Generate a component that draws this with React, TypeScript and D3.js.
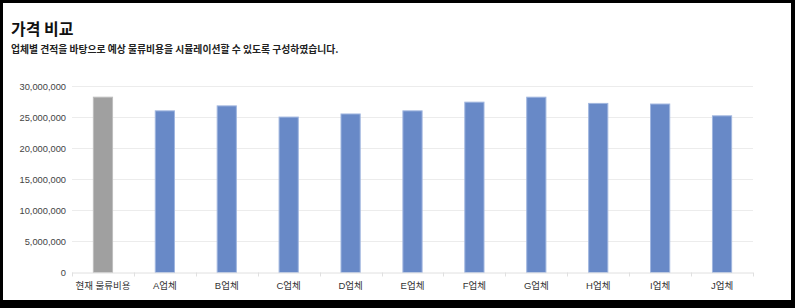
import React from "react";
import * as d3 from "d3";

const categories = ["현재 물류비용", "A업체", "B업체", "C업체", "D업체", "E업체", "F업체", "G업체", "H업체", "I업체", "J업체"];
const values = [28200000, 26000000, 26800000, 25000000, 25500000, 26000000, 27400000, 28200000, 27200000, 27100000, 25200000];
const yTicks = [0, 5000000, 10000000, 15000000, 20000000, 25000000, 30000000];
const title = "가격 비교";
const subtitle = "업체별 견적을 바탕으로 예상 물류비용을 시뮬레이션할 수 있도록 구성하였습니다.";

const W = 795;
const H = 308;
const left = 72;
const right = 753;
const top = 86;
const bottom = 272.5;

export default function App() {
  const x = d3.scaleBand<string>().domain(categories).range([left, right]).paddingInner(0.69).paddingOuter(0.345);
  const y = d3.scaleLinear().domain([0, 30000000]).range([bottom, top]);
  const fmt = d3.format(",");
  const step = (right - left) / categories.length;
  const font = "'Liberation Sans', Arial, 'Noto Sans CJK KR', sans-serif";
  return (
    <div style={{ position: "fixed", left: 0, top: 0 }}>
      <svg width={W} height={H} style={{ display: "block" }}>
        <rect x={0} y={0} width={W} height={H} fill="#000" />
        <rect x={3} y={3} width={788} height={297} fill="#fff" />
        <text x={11} y={35} fontSize={16} fontWeight="bold" fill="#111" fontFamily="'Noto Sans CJK KR', sans-serif">{title}</text>
        <text x={11} y={53} fontSize={9.8} fontWeight={600} fill="#222" fontFamily="'Noto Sans CJK KR', sans-serif">{subtitle}</text>
        {yTicks.map((t) => (
          <g key={t}>
            {t > 0 && <line x1={left} x2={right} y1={Math.round(y(t)) + 0.5} y2={Math.round(y(t)) + 0.5} stroke="#ececec" strokeWidth={1} />}
            <text x={66} y={y(t) + 3.5} fontSize={9.3} textAnchor="end" fill="#444" fontFamily={font}>{fmt(t)}</text>
          </g>
        ))}
        {categories.map((c, i) => (
          <rect
            key={c}
            x={x(c)!}
            y={y(values[i])}
            width={x.bandwidth()}
            height={bottom - y(values[i])}
            fill={i === 0 ? "#a0a0a0" : "#6889c7"}
            stroke={i === 0 ? "#bdbdbd" : "#a0b6df"}
            strokeWidth={1}
          />
        ))}
        <line x1={left} x2={right} y1={bottom + 0.5} y2={bottom + 0.5} stroke="#e0e0e0" strokeWidth={1} />
        {d3.range(categories.length + 1).map((i) => (
          <line key={i} x1={Math.round(left + i * step) + 0.5} x2={Math.round(left + i * step) + 0.5} y1={bottom} y2={bottom + 4} stroke="#e0e0e0" strokeWidth={1} />
        ))}
        {categories.map((c) => (
          <text key={c} x={x(c)! + x.bandwidth() / 2} y={289} fontSize={9.5} textAnchor="middle" fill="#333" fontFamily={font}>{c}</text>
        ))}
      </svg>
    </div>
  );
}
